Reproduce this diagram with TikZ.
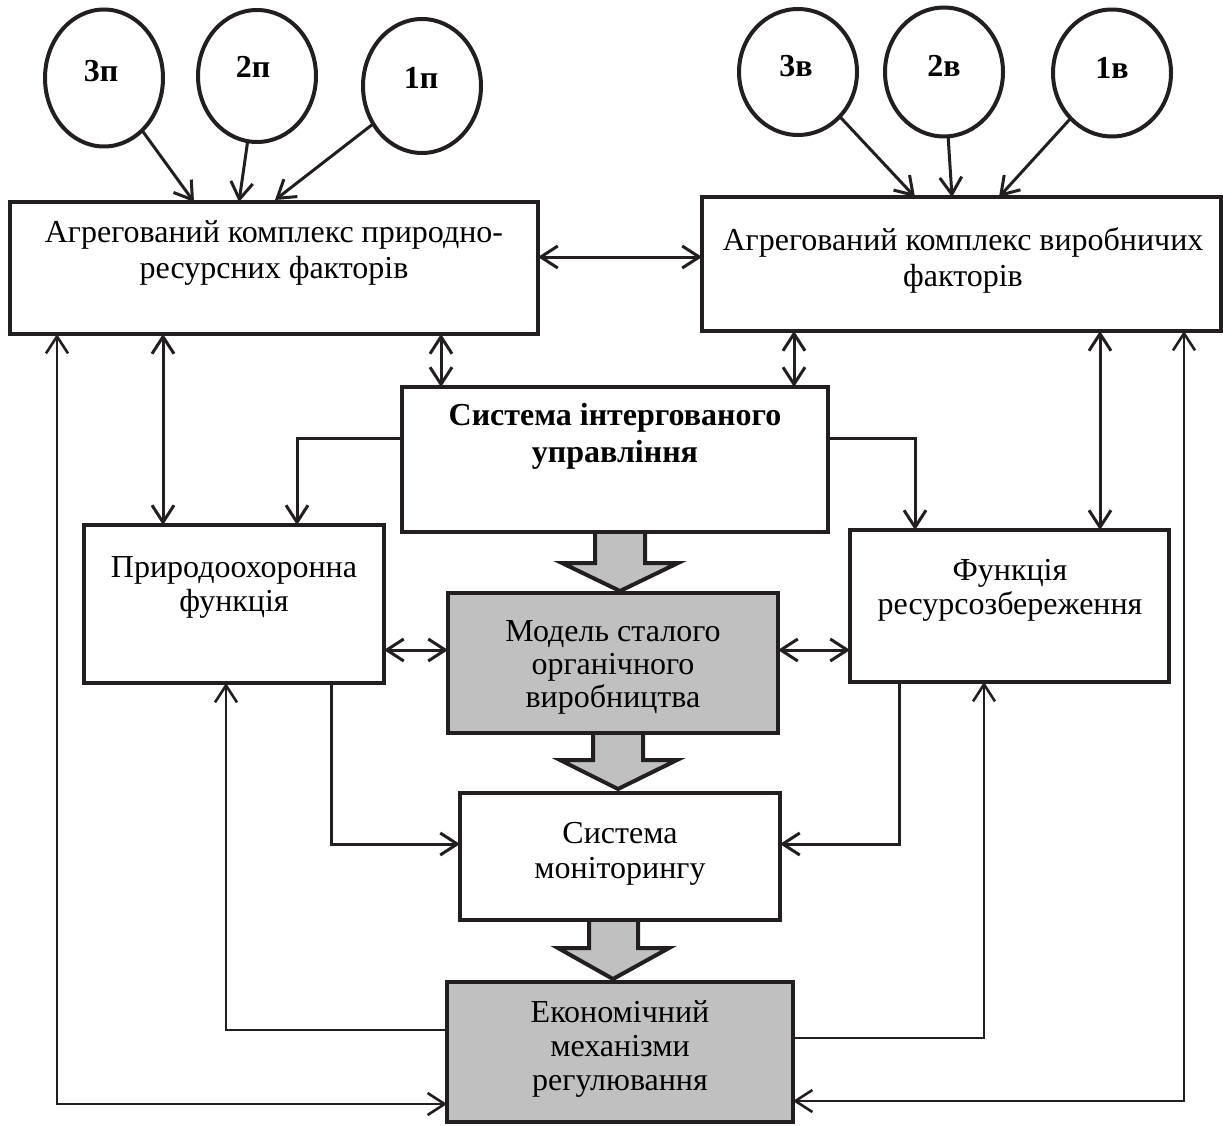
\documentclass[tikz,border=0pt]{standalone}
\usepackage{fontspec}
\setmainfont{Liberation Serif}
\usetikzlibrary{arrows.meta,shapes.geometric,calc}
\definecolor{ink}{RGB}{35,31,32}
\definecolor{boxgray}{RGB}{192,192,192}
\begin{document}
\begin{tikzpicture}[x=1pt,y=-1pt,
  every node/.style={inner sep=0pt, outer sep=0pt},
  box/.style={draw=ink, line width=3.5pt, fill=white, rectangle},
  thickbox/.style={draw=ink, line width=4.5pt, fill=white, rectangle},
  graybox/.style={draw=ink, line width=4.5pt, fill=boxgray, rectangle},
  txt/.style={align=center, font=\fontsize{32}{34.5}\selectfont, text=black},
  oval/.style={draw=ink, line width=4pt, ellipse, minimum width=118pt},
  lab/.style={font=\bfseries\fontsize{32}{34}\selectfont, text=black},
  barb/.tip={Straight Barb[length=17pt,width=22pt]},
  conn/.style={draw=ink, line width=3pt, -barb},
  thinconn/.style={draw=ink, line width=2.6pt, -barb},
  dconn/.style={draw=ink, line width=3pt, barb-barb},
  thindconn/.style={draw=ink, line width=2.6pt, barb-barb},
  blk/.style={draw=ink, line width=4pt, fill=boxgray, line join=miter}
]
\useasboundingbox (0,0) rectangle (1223,1126);

% ---- block arrows (drawn first, boxes cover their tops)
\draw[blk] (595,532) -- (595,563) -- (562,563) -- (620,591) -- (678,563) -- (645,563) -- (645,532);
\draw[blk] (593,733) -- (593,760) -- (560,760) -- (618,789) -- (677,760) -- (643,760) -- (643,733);
\draw[blk] (589,920) -- (589,948) -- (558,948) -- (613,979) -- (669,948) -- (638,948) -- (638,920);

% ---- boxes
\node[box, minimum width=528pt, minimum height=132pt] (lbox) at (274,268) {};
\node[box, minimum width=519pt, minimum height=134pt] (rbox) at (961.5,264) {};
\node[box, minimum width=426pt, minimum height=145pt] (sys) at (615,459.5) {};
\node[thickbox, minimum width=300pt, minimum height=158pt] (prot) at (234,604) {};
\node[thickbox, minimum width=319pt, minimum height=152pt] (res) at (1009.5,606) {};
\node[graybox, minimum width=330pt, minimum height=140pt] (model) at (613,663) {};
\node[thickbox, minimum width=320pt, minimum height=127pt] (mon) at (620,856.5) {};
\node[graybox, minimum width=346pt, minimum height=140pt] (econ) at (620,1052) {};

% ---- box texts
\node[txt, font=\fontsize{32}{36}\selectfont] (tl) at (274,252.5) {Агрегований комплекс природно-\\ресурсних факторів};
\node[txt, font=\fontsize{32}{36}\selectfont] (tr) at (963,260.5) {Агрегований комплекс виробничих\\факторів};
\node[txt, font=\bfseries\fontsize{32}{37}\selectfont] (ts) at (615,436) {Система інтергованого\\управління};
\node[txt] (tp) at (234,587.5) {Природоохоронна\\функція};
\node[txt] (tres) at (1010,590.5) {Функція\\ресурсозбереження};
\node[txt, font=\fontsize{32}{33}\selectfont] (tm) at (613,667.5) {Модель сталого\\органічного\\виробництва};
\node[txt] (tmon) at (620,854) {Система\\моніторингу};
\node[txt, font=\fontsize{32}{34}\selectfont] (te) at (620,1049) {Економічний\\механізми\\регулювання};

% ---- ovals
\node[oval, minimum height=137pt] (c3p) at (104,78) {};
\node[oval, minimum height=132pt] (c2p) at (257,76) {};
\node[oval, minimum height=134pt] (c1p) at (422,86) {};
\node[oval, minimum height=126pt] (c3v) at (798,72) {};
\node[oval, minimum height=129pt] (c2v) at (944,72) {};
\node[oval, minimum height=127pt] (c1v) at (1112,73) {};
\node[lab] (l3p) at (101,71) {3п};
\node[lab] (l2p) at (253,67) {2п};
\node[lab] (l1p) at (421,78) {1п};
\node[lab] (l3v) at (796,66) {3в};
\node[lab] (l2v) at (944,66) {2в};
\node[lab] (l1v) at (1112,68) {1в};

% ---- oval arrows
\draw[conn] (c3p) -- ($(lbox.north west)+(184,0)$);
\draw[conn] (c2p) -- ($(lbox.north west)+(229,0)$);
\draw[conn] (c1p) -- ($(lbox.north west)+(265,-2)$);
\draw[conn] (c3v) -- ($(rbox.north west)+(213,0)$);
\draw[conn] (c2v) -- ($(rbox.north west)+(250,0)$);
\draw[conn] (c1v) -- ($(rbox.north west)+(297,0)$);

% ---- guide coordinates
\coordinate (gA) at (57,1104);
\coordinate (gB) at (163,0);
\coordinate (gC) at (441,0);
\coordinate (gD) at (794,0);
\coordinate (gE) at (1100,0);
\coordinate (gF) at (1184,1101);
\coordinate (gG) at (297,438);
\coordinate (gH) at (915,438);
\coordinate (gI) at (331,844);
\coordinate (gJ) at (899,844);
\coordinate (gK) at (226,1030);
\coordinate (gL) at (984,1038);
\coordinate (gM) at (0,257);
\coordinate (gN) at (0,650);

% ---- connectors
\draw[dconn] (lbox.east |- gM) -- (rbox.west |- gM);
\draw[dconn] (gC |- lbox.south) -- (gC |- sys.north);
\draw[dconn] (gD |- rbox.south) -- (gD |- sys.north);
\draw[dconn] (gB |- lbox.south) -- (gB |- prot.north);
\draw[dconn] (gE |- rbox.south) -- (gE |- res.north);
\draw[dconn] (prot.east |- gN) -- (model.west |- gN);
\draw[dconn] (model.east |- gN) -- (res.west |- gN);
\draw[conn] (sys.west |- gG) -- (gG) -- (gG |- prot.north);
\draw[conn] (sys.east |- gH) -- (gH) -- (gH |- res.north);
\draw[conn] (gI |- prot.south) -- (gI) -- (gI -| mon.west);
\draw[conn] (gJ |- res.south) -- (gJ) -- (gJ -| mon.east);
\draw[thinconn] (econ.west |- gK) -- (gK) -- (gK |- prot.south);
\draw[thinconn] (econ.east |- gL) -- (gL) -- (gL |- res.south);
\draw[thindconn] (gA |- lbox.south) -- (gA) -- (gA -| econ.west);
\draw[thindconn] (gF |- rbox.south) -- (gF) -- (gF -| econ.east);
\end{tikzpicture}
\end{document}
